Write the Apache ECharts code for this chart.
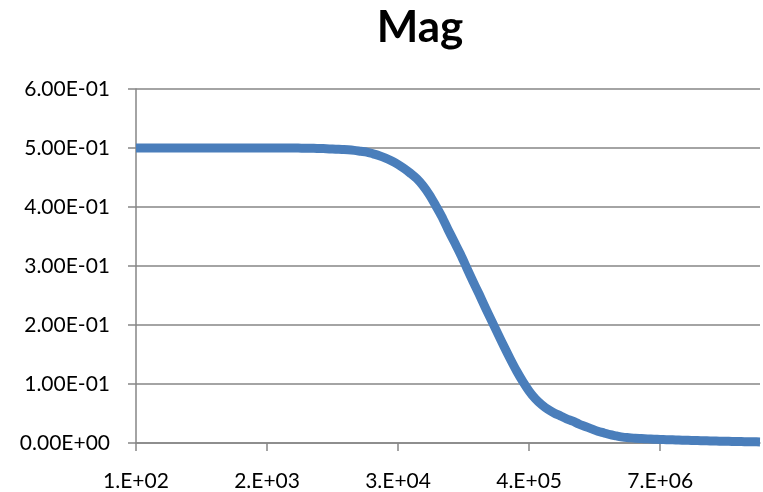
<!DOCTYPE html>
<html>
<head>
<meta charset="utf-8">
<script src="https://cdn.jsdelivr.net/npm/echarts@6/dist/echarts.min.js"></script>
<style>
  html, body { margin: 0; padding: 0; background: #fff; }
  #chart { width: 763px; height: 492px; }
</style>
</head>
<body>
<div id="chart"></div>
<script>
// Frequency sweep points (Hz), shown in Excel-style "0.E+00" form
const frequencies = [
  '1.E+02','1.E+02','1.E+02','1.E+02','2.E+02','2.E+02','2.E+02','3.E+02','3.E+02','3.E+02',
  '4.E+02','4.E+02','5.E+02','6.E+02','6.E+02','7.E+02','8.E+02','1.E+03','1.E+03','1.E+03',
  '1.E+03','2.E+03','2.E+03','2.E+03','2.E+03','3.E+03','3.E+03','4.E+03','4.E+03','5.E+03',
  '5.E+03','6.E+03','7.E+03','8.E+03','9.E+03','1.E+04','1.E+04','1.E+04','2.E+04','2.E+04',
  '2.E+04','2.E+04','3.E+04','3.E+04','3.E+04','4.E+04','4.E+04','5.E+04','6.E+04','7.E+04',
  '8.E+04','9.E+04','1.E+05','1.E+05','1.E+05','1.E+05','2.E+05','2.E+05','2.E+05','3.E+05',
  '3.E+05','3.E+05','4.E+05','4.E+05','5.E+05','6.E+05','6.E+05','7.E+05','8.E+05','9.E+05',
  '1.E+06','1.E+06','1.E+06','2.E+06','2.E+06','2.E+06','2.E+06','3.E+06','3.E+06','4.E+06',
  '4.E+06','5.E+06','5.E+06','6.E+06','7.E+06','8.E+06','9.E+06','1.E+07','1.E+07','1.E+07',
  '2.E+07','2.E+07','2.E+07','2.E+07','3.E+07','3.E+07','3.E+07','4.E+07','4.E+07','5.E+07',
  '6.E+07'
];

// Magnitude response at each frequency
const magnitude = [
  0.5, 0.5, 0.5, 0.5, 0.5, 0.5, 0.5, 0.5, 0.5, 0.5,
  0.5, 0.5, 0.5, 0.5, 0.5, 0.5, 0.5, 0.5, 0.5, 0.5,
  0.5, 0.5, 0.5, 0.5, 0.5, 0.5, 0.4998, 0.4997, 0.4995, 0.4993,
  0.499, 0.4985, 0.498, 0.4975, 0.497, 0.496, 0.4945, 0.493, 0.49, 0.487,
  0.483, 0.478, 0.472, 0.465, 0.457, 0.448, 0.436, 0.421, 0.403, 0.384,
  0.362, 0.341, 0.32, 0.297, 0.274, 0.252, 0.229, 0.207, 0.185, 0.163,
  0.142, 0.122, 0.104, 0.088, 0.075, 0.065, 0.057, 0.051, 0.046, 0.041,
  0.037, 0.032, 0.028, 0.024, 0.02, 0.017, 0.014, 0.012, 0.01, 0.009,
  0.008, 0.0075, 0.007, 0.0065, 0.006, 0.0057, 0.0054, 0.005, 0.0047, 0.0044,
  0.0041, 0.0038, 0.0035, 0.0033, 0.003, 0.0028, 0.0026, 0.0024, 0.0022, 0.002,
  0.0018
];

const chartTitle = 'Mag';
const yMin = 0, yMax = 0.6, yStep = 0.1;
const labelEvery = 21;

// Scientific notation with two decimals and a two-digit exponent, e.g. 5.00E-01
function sci(v) {
  const s = Number(v).toExponential(2);
  const [mant, exp] = s.split('e');
  const n = parseInt(exp, 10);
  const sign = n < 0 ? '-' : '+';
  const digits = String(Math.abs(n)).padStart(2, '0');
  return mant + 'E' + sign + digits;
}

const font = 'Lato, "Open Sans", sans-serif';
const axisGray = '#868686';

const chart = echarts.init(document.getElementById('chart'), null, { renderer: 'canvas' });
chart.setOption({
  animation: false,
  backgroundColor: '#ffffff',
  title: {
    text: chartTitle,
    left: 415,
    top: 1,
    textAlign: 'center',
    textStyle: { fontFamily: font, fontWeight: 'bold', fontSize: 44, color: '#000' }
  },
  grid: { left: 136, right: 3, top: 89, bottom: 48, containLabel: false },
  xAxis: {
    type: 'category',
    data: frequencies,
    boundaryGap: false,
    axisLine: { show: true, lineStyle: { color: axisGray, width: 1.5 } },
    axisTick: { show: true, inside: false, length: 8, interval: labelEvery - 1, lineStyle: { color: axisGray, width: 1.5 } },
    axisLabel: {
      interval: labelEvery - 1,
      margin: 28,
      fontFamily: font,
      fontSize: 21,
      color: '#000'
    },
    splitLine: { show: false }
  },
  yAxis: {
    type: 'value',
    min: yMin,
    max: yMax,
    interval: yStep,
    axisLine: { show: true, lineStyle: { color: axisGray, width: 1.5 } },
    axisTick: { show: true, inside: false, length: 8, lineStyle: { color: axisGray, width: 1.5 } },
    axisLabel: {
      margin: 26,
      fontFamily: font,
      fontSize: 21,
      color: '#000',
      formatter: sci
    },
    splitLine: { show: true, lineStyle: { color: axisGray, width: 1.5 } }
  },
  series: [{
    type: 'line',
    data: magnitude,
    showSymbol: false,
    smooth: 0.3,
    lineStyle: { color: '#4a7ebb', width: 9, cap: 'butt', join: 'round' }
  }]
});
</script>
</body>
</html>
